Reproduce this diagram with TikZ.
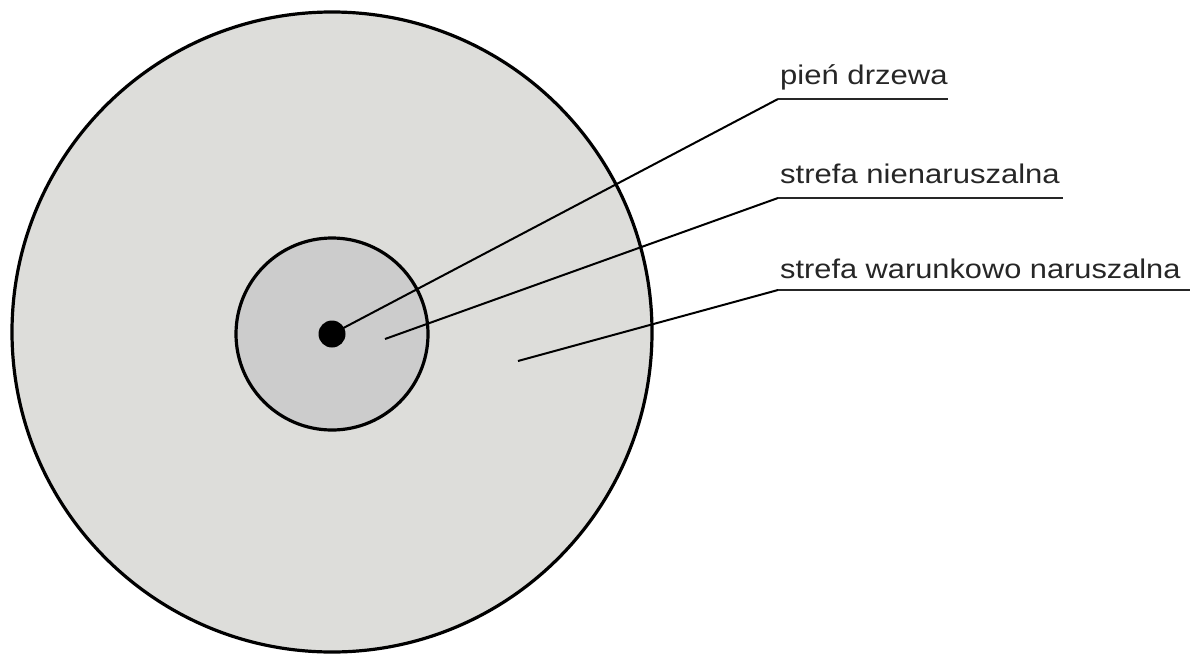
\documentclass[tikz,border=0pt]{standalone}
\usepackage{fontspec}
\setmainfont{Liberation Sans}
\begin{document}
\begin{tikzpicture}[x=1pt,y=-1pt,
  zone/.style={circle, draw=black, line width=3.2pt, inner sep=0pt, outer sep=0pt},
  leader/.style={draw=black, line width=2pt},
  uline/.style={draw=black!85, line width=2.5pt},
  lbl/.style={anchor=base west, inner sep=0pt, text=black!85, font=\fontsize{27}{32}\selectfont}]
\useasboundingbox (0,0) rectangle (1190,653);
\node[zone, fill={rgb,255:red,221;green,221;blue,218}, minimum size=640pt] (outer) at (332,332) {};
\node[zone, fill={rgb,255:red,204;green,204;blue,204}, minimum size=192pt] (inner) at (332,334) {};
\node[circle, fill=black, inner sep=0pt, minimum size=27pt] (trunk) at (332,334) {};
\coordinate (p2) at (385,339);
\coordinate (p3) at (518,361);
\node[lbl] (t1) at (780,84) {\scalebox{1.15}[1]{pień drzewa}};
\node[lbl] (t2) at (780,183) {\scalebox{1.15}[1]{strefa nienaruszalna}};
\node[lbl] (t3) at (780,278) {\scalebox{1.14}[1]{strefa warunkowo naruszalna}};
\coordinate (a1) at (778,99);   \coordinate (b1) at (948,99);
\coordinate (a2) at (778,198);  \coordinate (b2) at (1063,198);
\coordinate (a3) at (778,290);  \coordinate (b3) at (1190,290);
\draw[leader] (trunk.center) -- (a1);
\draw[leader] (p2) -- (a2);
\draw[leader] (p3) -- (a3);
\draw[uline] (a1) -- (b1);
\draw[uline] (a2) -- (b2);
\draw[uline] (a3) -- (b3);
\end{tikzpicture}
\end{document}
